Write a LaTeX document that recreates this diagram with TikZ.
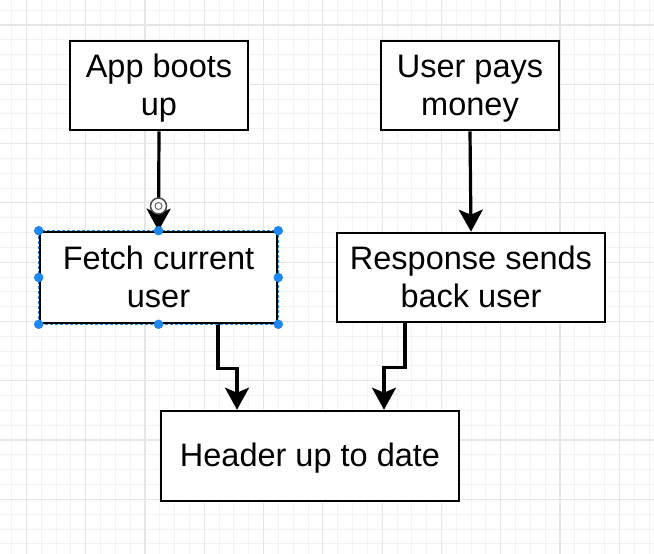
\documentclass[tikz,border=0pt]{standalone}
\usepackage{fontspec}
\setmainfont{Liberation Sans}
\usetikzlibrary{arrows.meta}
\definecolor{gridmajor}{HTML}{E6E6E6}
\definecolor{gridminor}{HTML}{F3F3F3}
\definecolor{selblue}{HTML}{1E88F0}
\newcommand\boxtext[1]{\raisebox{-3.3pt}[\height][\depth]{\begin{tabular}{@{}c@{}}#1\end{tabular}}}
\tikzset{
  box/.style={draw=black, line width=2.6pt, fill=white, rectangle, align=center,
    font=\fontsize{32.5}{38}\selectfont, inner sep=0pt},
  arr/.style={draw=black, line width=3.2pt, -{Stealth[length=22pt,width=24pt,inset=5pt]}},
  handle/.style={circle, fill=selblue, draw=none, minimum size=9.5pt, inner sep=0pt},
}
\begin{document}
\begin{tikzpicture}[x=1pt,y=-1pt]
\useasboundingbox (0,0) rectangle (654,554);
\fill[white] (0,0) rectangle (654,554);
% grid
\foreach \k in {0,...,48} {
  \draw[gridminor, line width=0.8pt] ({-33+14.825*\k},0) -- ({-33+14.825*\k},554);
}
\foreach \k in {0,...,40} {
  \draw[gridminor, line width=0.8pt] (0,{-34.4+14.825*\k}) -- (654,{-34.4+14.825*\k});
}
\foreach \k in {0,...,11} {
  \draw[gridmajor, line width=1.2pt] ({26.3+59.3*\k},0) -- ({26.3+59.3*\k},554);
}
\foreach \k in {0,...,9} {
  \draw[gridmajor, line width=1.2pt] (0,{24.9+59.3*\k}) -- (654,{24.9+59.3*\k});
}
% nodes
\node[box, minimum width=178pt, minimum height=89pt] (app) at (159,85.5) {\boxtext{App boots\\up}};
\node[box, minimum width=178pt, minimum height=89pt] (pay) at (470,85.5) {\boxtext{User pays\\money}};
\node[box, minimum width=237pt, minimum height=91pt] (fetch) at (158.5,277.5) {\boxtext{Fetch current\\user}};
\node[box, minimum width=268pt, minimum height=89pt] (resp) at (471,277.5) {\boxtext{Response sends\\back user}};
\node[box, minimum width=298pt, minimum height=90pt] (head) at (310,456) {\boxtext{Header up to date}};
% connectors
\draw[arr] (app.south) -- (fetch.north);
\draw[arr] (pay.south) -- (resp.north);
\draw[arr] ([xshift=59.5pt]fetch.south) -- ++(0,44) -| ([xshift=-73pt]head.north);
\draw[arr] ([xshift=-66pt]resp.south) -- ++(0,44) -| ([xshift=74pt]head.north);
% selection overlay on fetch box
\draw[selblue, line width=1.2pt, dash pattern=on 3pt off 2pt] (fetch.north west) rectangle (fetch.south east);
\foreach \a in {north west,north,north east,west,east,south west,south,south east} {
  \node[handle] at (fetch.\a) {};
}
% hover icon on arrow
\node[circle, draw=black!70, fill=white, line width=1.5pt, minimum size=16pt, inner sep=0pt] (hover) at (158.5,206) {};
\node[circle, draw=black!60, line width=1pt, minimum size=7pt, inner sep=0pt] at (hover.center) {};
\end{tikzpicture}
\end{document}
